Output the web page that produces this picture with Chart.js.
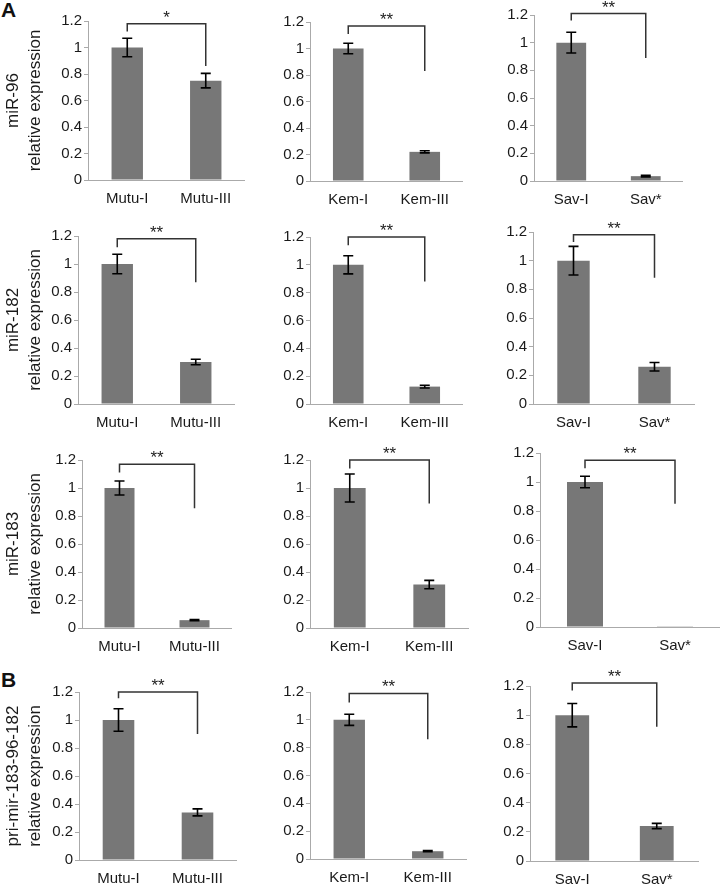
<!DOCTYPE html>
<html>
<head>
<meta charset="utf-8">
<script src="https://cdn.jsdelivr.net/npm/chart.js@4"></script>
<style>
  body { margin: 0; background: #fff; width: 720px; height: 884px; position: relative; overflow: hidden; font-family: "Liberation Sans", Arial, sans-serif; }
  canvas { position: absolute; }
  .panel { position: absolute; left: 1px; font-weight: bold; font-size: 21px; line-height: 20px; color: #111; }
</style>
</head>
<body>
<div class="panel" style="top:0">A</div>
<div class="panel" style="top:670px">B</div>
<script>
const groups = [["Mutu-I", "Mutu-III"], ["Kem-I", "Kem-III"], ["Sav-I", "Sav*"]];
const rowTitles = [
  ["miR-96", "relative expression"],
  ["miR-182", "relative expression"],
  ["miR-183", "relative expression"],
  ["pri-mir-183-96-182", "relative expression"]
];
// one pair per panel, row by row
const means = [
  [1, 0.75], [1, 0.22], [1, 0.035],
  [1, 0.3], [1, 0.125], [1, 0.26],
  [1, 0.056], [1, 0.31], [1, 0.005],
  [1, 0.34], [1, 0.056], [1, 0.24]
];
const errors = [
  [0.07, 0.055], [0.04, 0.008], [0.075, 0.006],
  [0.07, 0.02], [0.065, 0.01], [0.1, 0.03],
  [0.05, 0.004], [0.1, 0.03], [0.04, 0],
  [0.08, 0.025], [0.04, 0.004], [0.08, 0.018]
];
// significance bracket: top, left leg end, right leg end
const brackets = [
  [1.18, 1.12, 0.86], [1.17, 1.11, 0.83], [1.21, 1.16, 0.89],
  [1.18, 1.12, 0.87], [1.2, 1.14, 0.88], [1.18, 1.13, 0.88],
  [1.17, 1.11, 0.855], [1.2, 1.14, 0.89], [1.15, 1.095, 0.85],
  [1.2, 1.155, 0.9], [1.19, 1.125, 0.86], [1.22, 1.17, 0.92]
];
const stars = ["*", "**", "**", "**", "**", "**", "**", "**", "**", "**", "**", "**"];

// plot area of each panel on the page: y axis x, right end, top (1.2), bottom (0)
const boxes = [
  [88, 245, 21, 180], [310, 463, 22, 181], [534, 683, 15, 181],
  [78, 235, 236, 404], [310, 463, 237, 404], [533, 695, 232, 404],
  [82, 232, 460, 628], [310, 469, 460, 628], [540, 720, 453, 627],
  [79, 237, 692, 860], [310, 467, 692, 859], [530, 699, 686, 861]
];

const fontFamily = "'Liberation Sans', Arial, sans-serif";

const sigPlugin = {
  id: "sig",
  afterDatasetsDraw(chart, args, o) {
    const ctx = chart.ctx, y = chart.scales.y;
    const bars = chart.getDatasetMeta(0).data;
    ctx.save();
    ctx.strokeStyle = "#000";
    ctx.lineWidth = 1.6;
    bars.forEach((b, i) => {
      const v = o.values[i], e = o.errors[i];
      if (!e) return;
      const hi = y.getPixelForValue(v + e), lo = y.getPixelForValue(v - e);
      ctx.beginPath();
      ctx.moveTo(b.x, hi); ctx.lineTo(b.x, lo);
      ctx.moveTo(b.x - 5, hi); ctx.lineTo(b.x + 5, hi);
      ctx.moveTo(b.x - 5, lo); ctx.lineTo(b.x + 5, lo);
      ctx.stroke();
    });
    const [top, left, right] = o.bracket;
    const xl = bars[0].x, xr = bars[1].x, yt = y.getPixelForValue(top);
    ctx.strokeStyle = "#333";
    ctx.lineWidth = 1.5;
    ctx.beginPath();
    ctx.moveTo(xl, y.getPixelForValue(left));
    ctx.lineTo(xl, yt);
    ctx.lineTo(xr, yt);
    ctx.lineTo(xr, y.getPixelForValue(right));
    ctx.stroke();
    ctx.fillStyle = "#222";
    ctx.font = "17px " + fontFamily;
    ctx.textAlign = "center";
    ctx.textBaseline = "alphabetic";
    ctx.fillText(o.star, (xl + xr) / 2, yt - 1);
    ctx.restore();
  }
};

for (let i = 0; i < 12; i++) {
  const row = Math.floor(i / 3), col = i % 3;
  const [ax, end, top, bottom] = boxes[i];
  const yw = col === 0 ? ax : 50;
  const pt = Math.min(20, top);
  const xh = 36;
  const cv = document.createElement("canvas");
  cv.width = end - ax + yw;
  cv.height = bottom - top + pt + xh;
  cv.style.left = (ax - yw) + "px";
  cv.style.top = (top - pt) + "px";
  document.body.appendChild(cv);

  new Chart(cv, {
    type: "bar",
    data: {
      labels: groups[col],
      datasets: [{
        data: means[i],
        backgroundColor: "#777777",
        barPercentage: 0.4,
        categoryPercentage: 1
      }]
    },
    options: {
      responsive: false,
      animation: false,
      layout: { padding: { top: pt, right: 0, left: 0, bottom: 0 } },
      plugins: {
        legend: { display: false },
        tooltip: { enabled: false },
        sig: { values: means[i], errors: errors[i], bracket: brackets[i], star: stars[i] }
      },
      scales: {
        x: {
          grid: { display: false, drawTicks: false },
          border: { color: "#aaaaaa" },
          ticks: { color: "#1a1a1a", font: { family: fontFamily, size: 15 }, padding: 10 },
          afterFit: s => { s.height = xh; }
        },
        y: {
          min: 0,
          max: 1.2,
          grid: { drawOnChartArea: false, tickLength: 4, color: "#aaaaaa" },
          border: { color: "#aaaaaa" },
          ticks: {
            stepSize: 0.2,
            color: "#1a1a1a",
            font: { family: fontFamily, size: 15 },
            padding: 2,
            callback: v => String(+v.toFixed(1))
          },
          title: {
            display: col === 0,
            text: rowTitles[row],
            color: "#1a1a1a",
            font: { family: fontFamily, size: 17, lineHeight: 1.25 },
            padding: { top: 3, bottom: 0 }
          },
          afterFit: s => { s.width = yw; }
        }
      }
    },
    plugins: [sigPlugin]
  });
}
</script>
</body>
</html>
